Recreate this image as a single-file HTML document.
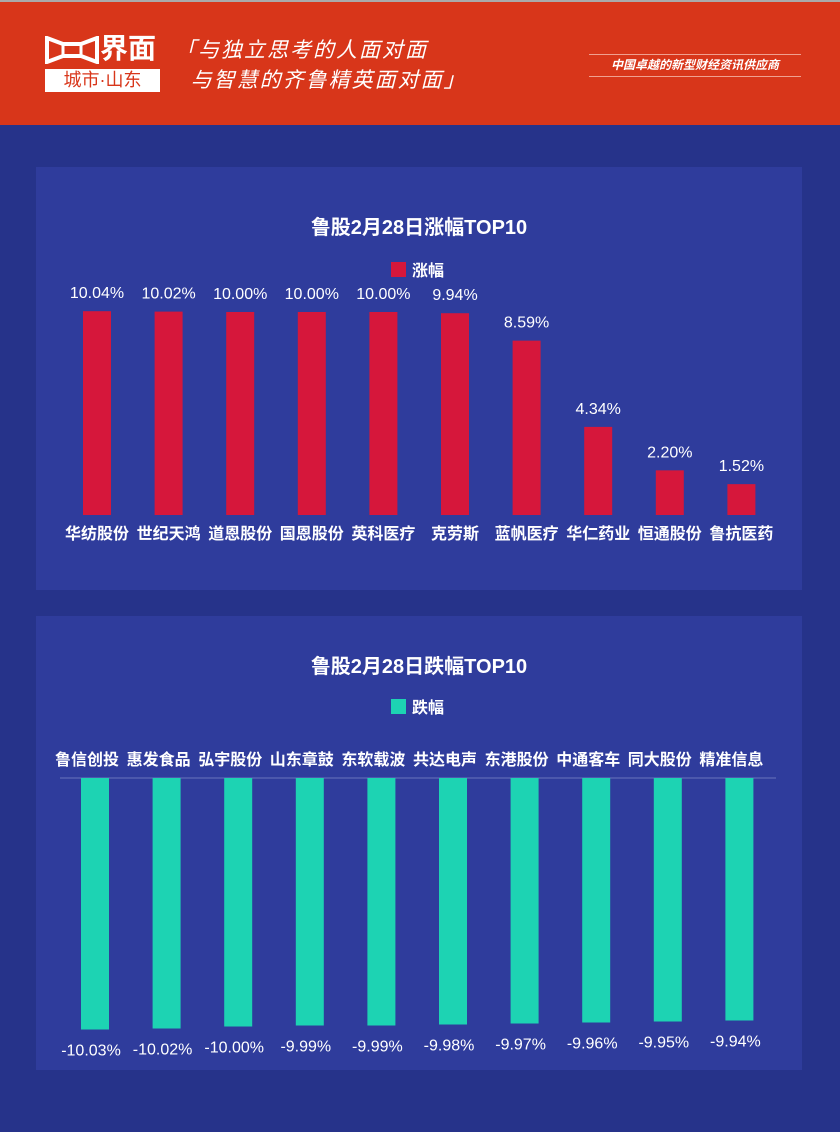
<!DOCTYPE html>
<html><head><meta charset="utf-8">
<style>
*{margin:0;padding:0;box-sizing:border-box}
body{width:840px;height:1132px;background:#26338a;font-family:"Liberation Sans","Noto Sans CJK SC",sans-serif;position:relative;overflow:hidden;color:#fff}
.header{position:absolute;left:0;top:0;width:840px;height:125px;background:#d8361a;border-top:2px solid #aaa}
.panel{position:absolute;left:36px;width:766px;background:#2f3c9c}
svg text{font-family:"Liberation Sans","Noto Sans CJK SC",sans-serif}
</style></head><body>
<div class="header">
  <div style="position:absolute;left:45px;top:33px;width:116px;height:58px">
    <svg width="54" height="28" style="position:absolute;left:0;top:1px">
      <path d="M2 2 L18 8 L36 8 L52 2 L52 26 L36 20 L18 20 L2 26 Z" fill="none" stroke="#fff" stroke-width="4"/>
      <rect x="18" y="8" width="18" height="12" fill="none" stroke="#fff" stroke-width="3"/>
    </svg>
    <div style="position:absolute;left:55px;top:-3px;font-size:28px;font-weight:bold;line-height:34px;white-space:nowrap">界面</div>
    <div style="position:absolute;left:0;top:34px;width:115px;height:23px;background:#fff;color:#d8361a;font-size:18px;line-height:23px;text-align:center;white-space:nowrap">城市·山东</div>
  </div>
  <div style="position:absolute;left:175px;top:34px;font-size:21px;font-style:italic;line-height:30px;letter-spacing:2px;white-space:nowrap">「与独立思考的人面对面<br>&nbsp;&nbsp;与智慧的齐鲁精英面对面」</div>
  <div style="position:absolute;left:589px;top:52px;width:212px;border-top:1px solid #f0a090;border-bottom:1px solid #f0a090;font-size:12px;font-style:italic;font-weight:bold;text-align:center;line-height:21px;white-space:nowrap">中国卓越的新型财经资讯供应商</div>
</div>

<div class="panel" style="top:167px;height:423px">
<svg id="c1" width="766" height="423"></svg>
</div>
<div class="panel" style="top:616px;height:454px">
<svg id="c2" width="766" height="454"></svg>
</div>

<script>
const upNames=["华纺股份","世纪天鸿","道恩股份","国恩股份","英科医疗","克劳斯","蓝帆医疗","华仁药业","恒通股份","鲁抗医药"];
const upValues=[10.04,10.02,10.00,10.00,10.00,9.94,8.59,4.34,2.20,1.52];
const upLabels=["10.04%","10.02%","10.00%","10.00%","10.00%","9.94%","8.59%","4.34%","2.20%","1.52%"];
const downNames=["鲁信创投","惠发食品","弘宇股份","山东章鼓","东软载波","共达电声","东港股份","中通客车","同大股份","精准信息"];
const downValues=[-10.03,-10.02,-10.00,-9.99,-9.99,-9.98,-9.97,-9.96,-9.95,-9.94];
const downLabels=["-10.03%","-10.02%","-10.00%","-9.99%","-9.99%","-9.98%","-9.97%","-9.96%","-9.95%","-9.94%"];
const NS="http://www.w3.org/2000/svg";
function mk(svg,tag,attrs,txt){const e=document.createElementNS(NS,tag);for(const k in attrs)e.setAttribute(k,attrs[k]);if(txt!=null)e.textContent=txt;svg.appendChild(e);return e;}
(function(){
 const s=document.getElementById('c1');
 const x=i=>61+i*71.6, base=348, y=v=>base-v*20.3;
 let t=mk(s,'text',{x:383,y:67,'text-anchor':'middle','font-size':20,'font-weight':'bold',fill:'#fff'},'鲁股2月28日涨幅TOP10');
 
 
 let r=mk(s,'rect',{x:355,y:95,width:15,height:15,fill:'#d6173b'});
 
 
 t=mk(s,'text',{x:376,y:109,'font-size':16,'font-weight':'bold',fill:'#fff'},'涨幅');
 
 
 upValues.forEach((v,i)=>{
  let b=mk(s,'rect',{x:x(i)-14,y:y(v),width:28,height:base-y(v),fill:'#d6173b'});
  
  
  let l=mk(s,'text',{x:x(i),y:y(v)-13,'text-anchor':'middle','font-size':16,fill:'#fff'},upLabels[i]);
  
  
  let c=mk(s,'text',{x:x(i),y:372,'text-anchor':'middle','font-size':16,'font-weight':'bold',fill:'#fff'},upNames[i]);
  
  
 });
})();
(function(){
 const s=document.getElementById('c2');
 const x=i=>59+i*71.6, base=162, y=v=>base+(-7.515-v)*100;
 let t=mk(s,'text',{x:383,y:57,'text-anchor':'middle','font-size':20,'font-weight':'bold',fill:'#fff'},'鲁股2月28日跌幅TOP10');
 
 
 let r=mk(s,'rect',{x:355,y:83,width:15,height:15,fill:'#1dd3b3'});
 
 
 t=mk(s,'text',{x:376,y:97,'font-size':16,'font-weight':'bold',fill:'#fff'},'跌幅');
 
 
 let ax=mk(s,'line',{x1:24,x2:740,y1:base,y2:base,stroke:'#6a75bb','stroke-width':1});
 
 
 downValues.forEach((v,i)=>{
  const yy=y(v);
  let b=mk(s,'rect',{x:x(i)-14,y:base,width:28,height:yy-base,fill:'#1dd3b3'});
  
  
  let l=mk(s,'text',{x:x(i)-4,y:yy+26,'text-anchor':'middle','font-size':16,fill:'#fff'},downLabels[i]);
  
  
  let c=mk(s,'text',{x:x(i)-8,y:149,'text-anchor':'middle','font-size':16,'font-weight':'bold',fill:'#fff'},downNames[i]);
  
  
 });
})();
</script>
</body></html>
